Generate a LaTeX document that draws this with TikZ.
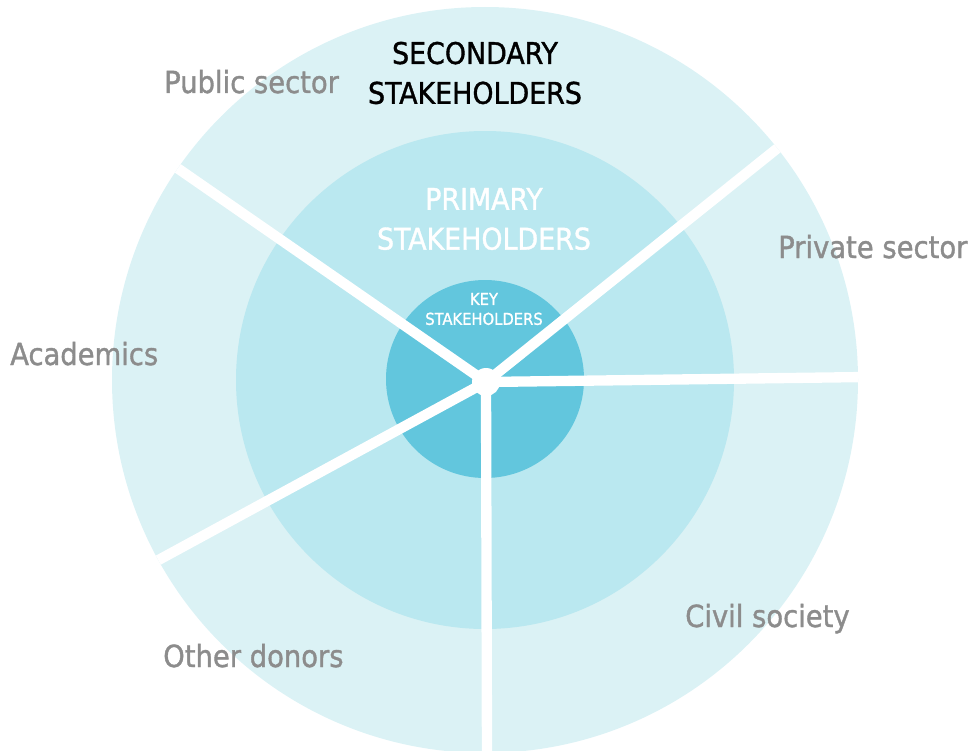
\documentclass[tikz,border=0pt]{standalone}
\usepackage{fontspec}
\setmainfont{DejaVu Sans Condensed}[FakeBold=1.2]
\definecolor{outerring}{RGB}{219,242,245}
\definecolor{middlering}{RGB}{186,232,240}
\definecolor{innerring}{RGB}{98,198,221}
\definecolor{labelgray}{RGB}{140,140,140}

\begin{document}
\begin{tikzpicture}[x=0.3mm,y=-0.3mm,
    spoke/.style={white,line width=3.1mm},
    ringtitle/.style={align=center,inner sep=0pt,font=\fontsize{25.5}{34}\selectfont},
    sectorlabel/.style={labelgray,anchor=base west,inner sep=0pt,font=\fontsize{26}{34}\selectfont}]
    % page
    \useasboundingbox (0,0) rectangle (974,751);
    % rings
    \fill[outerring]  (485,380) circle (373);
    \fill[middlering] (485,380) circle (249);
    \fill[innerring]  (485,379) circle (99);
    % spoke ends and hub
    \coordinate (hub) at (486,382);
    \coordinate (publicend)  at (170,163);
    \coordinate (privateend) at (784,143);
    \coordinate (civilend)   at (866,377);
    \coordinate (donorend)   at (487,760);
    \coordinate (academend)  at (153,563);
    % spokes, cut at the outer ring
    \begin{scope}
        \clip (485,380) circle (373);
        \foreach \e in {publicend,privateend,civilend,donorend,academend}
            \draw[spoke] (hub) -- (\e);
    \end{scope}
    \fill[white] (hub) circle (14);
    % ring titles
    \node[ringtitle,black] (secondary) at (475,73) {SECONDARY\\STAKEHOLDERS};
    \node[ringtitle,white] (primary) at (484,219) {PRIMARY\\STAKEHOLDERS};
    \node[ringtitle,white,font=\fontsize{14}{17}\selectfont] (key) at (484,309) {KEY\\STAKEHOLDERS};
    % sector labels
    \node[sectorlabel] (public)  at (164,93)  {Public sector};
    \node[sectorlabel] (private) at (778,258) {Private sector};
    \node[sectorlabel] (academ)  at (10,365)  {Academics};
    \node[sectorlabel] (civil)   at (685,627) {Civil society};
    \node[sectorlabel] (donors)  at (163,667) {Other donors};
\end{tikzpicture}
\end{document}
